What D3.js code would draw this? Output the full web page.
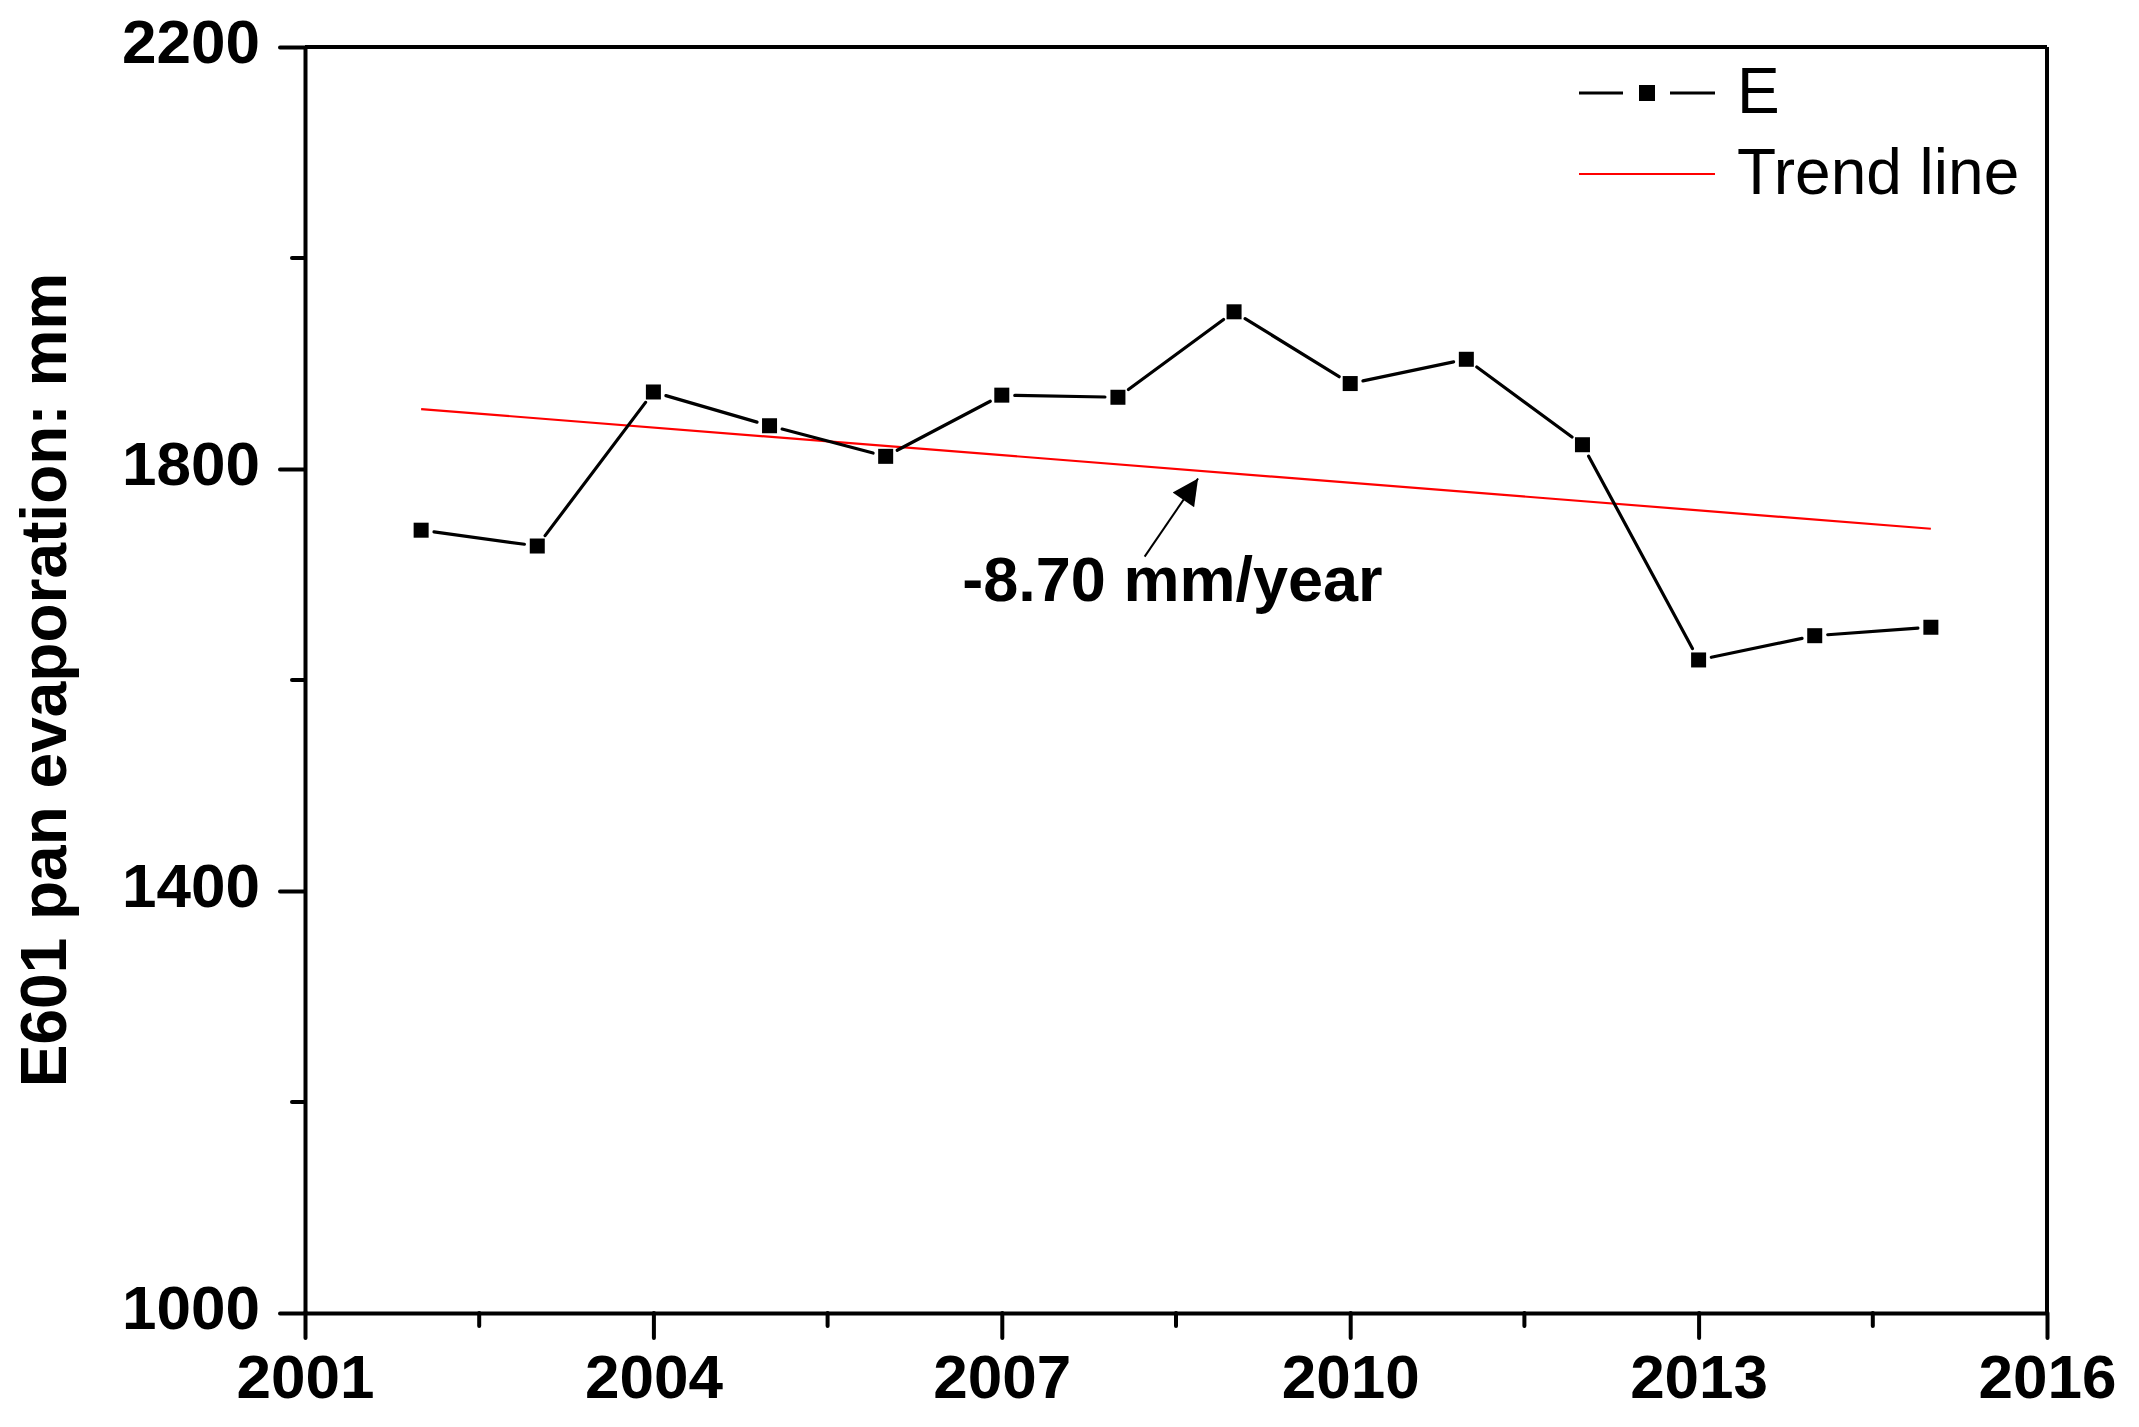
<!DOCTYPE html>
<html>
<head>
<meta charset="utf-8">
<script src="https://cdn.jsdelivr.net/npm/d3@7"></script>
<style>
  body { margin: 0; background: #fff; }
  text { font-family: "Liberation Sans", Arial, sans-serif; }
</style>
</head>
<body>
<svg id="chart"></svg>
<script>
// data
var years = [2002, 2003, 2004, 2005, 2006, 2007, 2008, 2009, 2010, 2011, 2012, 2013, 2014, 2015];
var evaporation = [1742, 1727, 1873, 1841, 1812, 1870, 1868, 1949, 1881, 1904, 1823, 1619, 1642, 1650];
var xTicks = [2001, 2004, 2007, 2010, 2013, 2016];
var xMinorTicks = [2002.5, 2005.5, 2008.5, 2011.5, 2014.5];
var yTicks = [1000, 1400, 1800, 2200];
var yMinorTicks = [1200, 1600, 2000];
var slopeLabel = "-8.70 mm/year";

var width = 2139, height = 1427;
var margin = {left: 305, right: 92, top: 47, bottom: 114};

var svg = d3.select('#chart')
    .attr('width', width)
    .attr('height', height);

var xScale = d3.scaleLinear().domain([2001, 2016]).range([margin.left, width - margin.right]);
var yScale = d3.scaleLinear().domain([1000, 2200]).range([height - margin.bottom, margin.top]);

// linear trend (least squares) of the series
var mx = d3.mean(years), my = d3.mean(evaporation);
var sxy = d3.sum(years, (d, i) => (d - mx) * (evaporation[i] - my));
var sxx = d3.sum(years, d => (d - mx) * (d - mx));
var slope = sxy / sxx;
var trend = years.filter((d, i) => i === 0 || i === years.length - 1)
    .map(d => ({x: d, y: my + slope * (d - mx)}));

// frame: top and right lines without ticks
svg.append('line')
    .attr('x1', xScale(2001)).attr('x2', xScale(2016))
    .attr('y1', yScale(2200)).attr('y2', yScale(2200))
    .attr('stroke', '#000').attr('stroke-width', 4);
svg.append('line')
    .attr('x1', xScale(2016)).attr('x2', xScale(2016))
    .attr('y1', yScale(2200)).attr('y2', yScale(1000))
    .attr('stroke', '#000').attr('stroke-width', 4);

// x axis
var xAxis = d3.axisBottom(xScale).tickValues(xTicks).tickFormat(d3.format('d'))
    .tickSizeInner(25).tickSizeOuter(0).tickPadding(16);
var gx = svg.append('g')
    .attr('transform', 'translate(0,' + yScale(1000) + ')')
    .call(xAxis);
gx.selectAll('.tick').filter(d => d === 2001).select('line').attr('y1', -1);
gx.append('g').selectAll('line').data(xMinorTicks).enter().append('line')
    .attr('x1', d => xScale(d)).attr('x2', d => xScale(d))
    .attr('y1', 0).attr('y2', 13);

// y axis
var yAxis = d3.axisLeft(yScale).tickValues(yTicks).tickFormat(d3.format('d'))
    .tickSizeInner(25).tickSizeOuter(0).tickPadding(20);
var gy = svg.append('g')
    .attr('transform', 'translate(' + xScale(2001) + ',0)')
    .call(yAxis);
gy.append('g').selectAll('line').data(yMinorTicks).enter().append('line')
    .attr('x1', 0).attr('x2', -13)
    .attr('y1', d => yScale(d)).attr('y2', d => yScale(d));

[gx, gy].forEach(function(g) {
    g.select('.domain').attr('stroke', '#000').attr('stroke-width', 4);
    g.selectAll('line').attr('stroke', '#000').attr('stroke-width', 4).attr('stroke-linecap', 'round');
    g.selectAll('.tick text')
        .attr('fill', '#000')
        .style('font-size', '62px')
        .style('font-weight', 'bold')
        .style('font-family', '"Liberation Sans", Arial, sans-serif');
});
gy.selectAll('.tick text').attr('dy', '0.25em');
gx.selectAll('.tick text').attr('dy', '0.71em');

// y label
svg.append('text')
    .attr('transform', 'translate(' + 66 + ',' + (yScale(1600)) + ') rotate(-90)')
    .attr('text-anchor', 'middle')
    .style('font-size', '64px')
    .style('font-weight', 'bold')
    .text('E601 pan evaporation: mm');

// trend line
svg.append('line')
    .attr('x1', xScale(trend[0].x)).attr('y1', yScale(trend[0].y))
    .attr('x2', xScale(trend[1].x)).attr('y2', yScale(trend[1].y))
    .attr('stroke', '#ff0000').attr('stroke-width', 2.2);

// data line, segments stop short of the markers
var pts = years.map((d, i) => [xScale(d), yScale(evaporation[i])]);
var gap = 13;
var segs = d3.pairs(pts).map(function(p) {
    var dx = p[1][0] - p[0][0], dy = p[1][1] - p[0][1];
    var len = Math.sqrt(dx * dx + dy * dy);
    var ux = dx / len, uy = dy / len;
    return [p[0][0] + ux * gap, p[0][1] + uy * gap, p[1][0] - ux * gap, p[1][1] - uy * gap];
});
svg.append('g').selectAll('line').data(segs).enter().append('line')
    .attr('x1', d => d[0]).attr('y1', d => d[1])
    .attr('x2', d => d[2]).attr('y2', d => d[3])
    .attr('stroke', '#000').attr('stroke-width', 3.2).attr('stroke-linecap', 'round');

var markerSize = 15;
svg.append('g').selectAll('rect').data(years).enter().append('rect')
    .attr('x', (d, i) => xScale(d) - markerSize / 2)
    .attr('y', (d, i) => yScale(evaporation[i]) - markerSize / 2)
    .attr('width', markerSize).attr('height', markerSize)
    .attr('fill', '#000');

// annotation arrow
svg.append('defs').append('marker')
    .attr('id', 'arrowhead')
    .attr('viewBox', '0 0 10 10')
    .attr('refX', 10).attr('refY', 5)
    .attr('markerUnits', 'userSpaceOnUse')
    .attr('markerWidth', 32).attr('markerHeight', 26)
    .attr('orient', 'auto')
    .append('path').attr('d', 'M0,0 L10,5 L0,10 Z').attr('fill', '#000');

svg.append('line')
    .attr('x1', xScale(2008.23)).attr('y1', yScale(1717))
    .attr('x2', xScale(2008.69)).attr('y2', yScale(1791))
    .attr('stroke', '#000').attr('stroke-width', 2)
    .attr('marker-end', 'url(#arrowhead)');

svg.append('text')
    .attr('x', xScale(2006.66)).attr('y', yScale(1675))
    .style('font-size', '63px')
    .style('font-weight', 'bold')
    .text(slopeLabel);

// legend
var legend = svg.append('g').attr('transform', 'translate(1579,0)');
legend.append('line').attr('x1', 0).attr('x2', 44).attr('y1', 93).attr('y2', 93)
    .attr('stroke', '#000').attr('stroke-width', 3.2);
legend.append('line').attr('x1', 91).attr('x2', 136).attr('y1', 93).attr('y2', 93)
    .attr('stroke', '#000').attr('stroke-width', 3.2);
legend.append('rect').attr('x', 68 - 8).attr('y', 93 - 8).attr('width', 16).attr('height', 16)
    .attr('fill', '#000');
legend.append('text').attr('x', 158).attr('y', 113)
    .style('font-size', '64px').text('E');
legend.append('line').attr('x1', 0).attr('x2', 136).attr('y1', 174).attr('y2', 174)
    .attr('stroke', '#ff0000').attr('stroke-width', 2.2);
legend.append('text').attr('x', 158).attr('y', 194)
    .style('font-size', '64px').text('Trend line');
</script>
</body>
</html>
